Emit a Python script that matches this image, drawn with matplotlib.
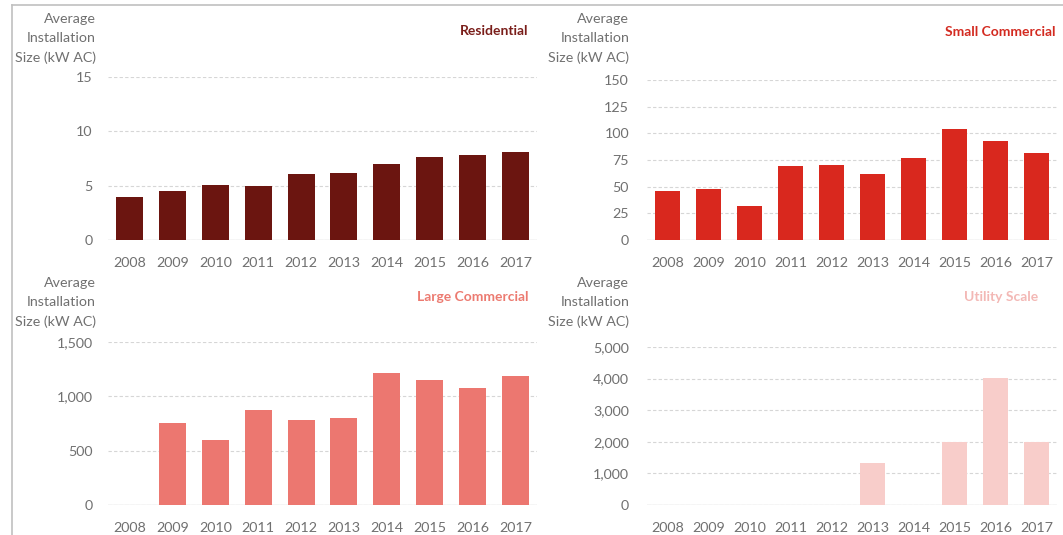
import numpy as np
import matplotlib.pyplot as plt
from matplotlib.ticker import StrMethodFormatter
from matplotlib.lines import Line2D

plt.rcParams['font.family'] = ['Lato', 'DejaVu Sans']

years = ['2008', '2009', '2010', '2011', '2012', '2013', '2014', '2015', '2016', '2017']

residential = [4.0, 4.5, 5.1, 5.0, 6.1, 6.2, 7.0, 7.6, 7.8, 8.1]
small_commercial = [46, 48, 32, 69, 70, 62, 77, 104, 93, 82]
large_commercial = [np.nan, 753, 594, 872, 783, 799, 1219, 1152, 1079, 1186]
utility_scale = [np.nan, np.nan, np.nan, np.nan, np.nan, 1333, np.nan, 2000, 4030, 2000]

panels = [
    ('Residential', residential, [0, 5, 10, 15], '#6b1510', '#7a1e1a'),
    ('Small Commercial', small_commercial, [0, 25, 50, 75, 100, 125, 150], '#d9281e', '#d32a20'),
    ('Large Commercial', large_commercial, [0, 500, 1000, 1500], '#ec7770', '#ec7a70'),
    ('Utility Scale', utility_scale, [0, 1000, 2000, 3000, 4000, 5000], '#f8cdca', '#f3b8b5'),
]

# axes boxes in figure fractions [left, bottom, width, height]
boxes = [
    [0.1016, 0.5514, 0.4036, 0.3047],
    [0.6087, 0.5514, 0.3857, 0.2990],
    [0.1016, 0.0561, 0.4036, 0.3047],
    [0.6087, 0.0561, 0.3857, 0.2953],
]
ypads = [11, 13, 11, 13]
label_x = [0.090, 0.592, 0.090, 0.592]
label_y = [0.976, 0.976, 0.483, 0.483]
title_pos = [(0.497, 0.942), (0.993, 0.940), (0.497, 0.445), (0.977, 0.445)]

gray = '#707070'

fig = plt.figure(figsize=(10.63, 5.35), dpi=100)

for i, (name, vals, yt, col, tcol) in enumerate(panels):
    ax = fig.add_axes(boxes[i])
    x = np.arange(len(years))
    ax.bar(x, vals, width=0.63, color=col, zorder=3)
    ax.set_xlim(-0.5, len(years) - 0.5)
    ax.set_ylim(yt[0], yt[-1])
    ax.set_yticks(yt)
    ax.yaxis.set_major_formatter(StrMethodFormatter('{x:,.0f}'))
    ax.set_xticks(x)
    ax.set_xticklabels(years)
    for s in ax.spines.values():
        s.set_visible(False)
    ax.tick_params(axis='both', length=0, labelsize=10.3, labelcolor=gray)
    ax.tick_params(axis='y', pad=ypads[i])
    ax.tick_params(axis='x', pad=12)
    ax.grid(axis='y', color='#d6d6d6', linestyle=(0, (3, 2)), linewidth=0.8, zorder=0)
    ax.axhline(0, color='#d9d9d9', linewidth=1.0, zorder=2)

    fig.text(label_x[i], label_y[i], 'Average\nInstallation\nSize (kW AC)', ha='right', va='top',
             fontsize=10.3, color=gray, linespacing=1.7)
    fig.text(title_pos[i][0], title_pos[i][1], name, ha='right', va='center',
             fontsize=10, fontweight='bold', color=tcol)

# frame lines from the original screenshot
fig.add_artist(Line2D([0.0113, 1.0], [0.9907, 0.9907], color='#c0c0c0', linewidth=1.2))
fig.add_artist(Line2D([0.0113, 0.0113], [0.0, 0.9907], color='#c0c0c0', linewidth=1.2))

fig.savefig('out.png', dpi=100)
